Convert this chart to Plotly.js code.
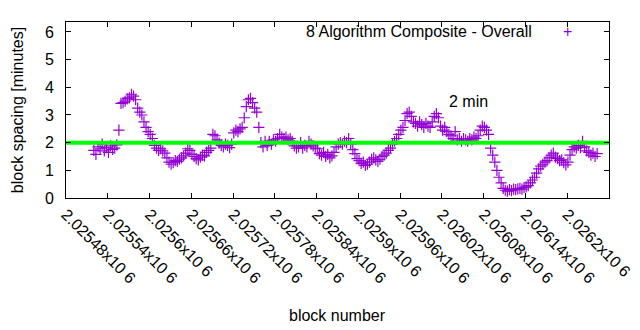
<!DOCTYPE html>
<html>
<head>
<meta charset="utf-8">
<script src="https://cdn.plot.ly/plotly-3.0.1.min.js"></script>
<style>html,body{margin:0;padding:0;background:#fff;}#chart{width:640px;height:330px;}</style>
</head>
<body>
<div id="chart"></div>
<script>
// Block numbers: consecutive sample every 3 blocks starting at this block
var firstBlock = 2025520;
var blockStep = 3;
// Block spacing (minutes), 8 Algorithm Composite - Overall
var spacing = [
1.72,1.58,1.85,1.78,1.95,1.70,1.82,1.65,1.88,1.76,1.80,1.92,
2.45,3.42,3.45,3.50,3.58,3.62,3.75,3.68,3.55,3.25,3.10,3.00,2.75,2.55,2.40,2.30,2.15,1.90,
1.80,1.72,1.78,1.70,1.62,1.45,1.30,1.22,1.28,1.35,1.32,1.40,1.45,1.52,1.62,1.78,1.72,1.58,1.50,1.42,
1.38,1.48,1.55,1.52,1.65,1.72,1.80,2.30,2.25,2.10,1.98,1.90,1.85,1.95,1.90,1.82,1.95,2.35,2.45,2.40,
2.50,2.55,2.90,3.30,3.55,3.60,3.45,3.25,3.10,2.55,2.00,1.85,2.05,1.90,2.05,1.95,2.10,2.05,2.15,2.30,
2.20,2.15,2.20,2.10,2.15,2.05,1.88,1.80,1.85,2.00,1.80,1.90,1.85,2.05,1.95,1.88,1.80,1.78,1.60,1.55,
1.65,1.50,1.58,1.45,1.52,1.65,1.85,1.95,2.00,1.95,2.05,2.00,2.15,1.95,1.75,1.60,1.42,1.35,1.25,1.30,
1.18,1.22,1.30,1.40,1.45,1.38,1.32,1.40,1.50,1.55,1.62,1.72,1.80,1.95,2.05,2.15,2.30,2.45,2.55,2.80,
3.05,3.10,2.95,2.75,2.70,2.60,2.75,2.65,2.55,2.70,2.60,2.55,2.75,2.95,3.05,2.90,2.60,2.45,2.55,2.40,
2.30,2.25,2.15,2.40,2.10,2.15,2.05,2.15,2.10,2.05,2.15,2.10,2.20,2.15,2.25,2.45,2.60,2.55,2.45,2.30,
1.80,1.55,1.30,1.00,0.75,0.55,0.35,0.28,0.25,0.30,0.27,0.32,0.30,0.33,0.35,0.32,0.38,0.40,0.45,0.55,
0.65,0.75,0.90,1.05,1.15,1.22,1.30,1.35,1.45,1.55,1.62,1.48,1.42,1.35,1.38,1.28,1.20,1.30,1.55,1.75,
1.85,1.80,1.90,1.82,2.05,1.85,1.70,1.65,1.55,1.62,1.50,1.60
];
var refLineX = [2025480, 2026260];
var refLineY = [2, 2];
var xTickVals = [2025480,2025540,2025600,2025660,2025720,2025780,2025840,2025900,2025960,2026020,2026080,2026140,2026200,2026260];
var yTickVals = [0,1,2,3,4,5,6];
var seriesName = '8 Algorithm Composite - Overall';
var refLabel = '2 min';

var blocks = spacing.map(function(_, i){ return firstBlock + blockStep * i; });
var xTickText = xTickVals.map(function(v){ return parseFloat((v/1e6).toFixed(5)).toString() + 'x10 6'; });

var FONT = 'Liberation Sans, Arial, sans-serif';
var data = [
  {x: blocks, y: spacing, type: 'scatter', mode: 'markers', name: seriesName,
   marker: {symbol: 'cross-thin-open', size: 8, color: '#9400d3', line: {color: '#9400d3', width: 1.2}},
   cliponaxis: true, showlegend: false},
  {x: refLineX, y: refLineY, type: 'scatter', mode: 'lines', name: refLabel,
   line: {color: '#00ff00', width: 4}, showlegend: false}
];
var layout = {
  width: 640, height: 330,
  margin: {l: 66, r: 31, t: 22, b: 132},
  paper_bgcolor: '#fff', plot_bgcolor: '#fff',
  font: {family: FONT, size: 16, color: '#000'},
  showlegend: false,
  xaxis: {range: [2025480, 2026260], tickmode: 'array', tickvals: xTickVals, ticktext: xTickText,
          tickangle: 45, ticks: 'inside', ticklen: 5, tickcolor: '#000', showgrid: false, zeroline: false,
          showline: true, linecolor: '#000', linewidth: 1, mirror: 'ticks', tickfont: {family: FONT, size: 16}},
  yaxis: {range: [0, 6.36], tickmode: 'array', tickvals: yTickVals, ticks: 'inside', ticklen: 5,
          tickcolor: '#000', showgrid: false, zeroline: false, showline: true, linecolor: '#000',
          linewidth: 1, mirror: 'ticks', ticklabelstandoff: 8, tickfont: {family: FONT, size: 16}},
  annotations: [
    {xref: 'paper', yref: 'paper', x: 0.5, y: -0.67, text: 'block number', showarrow: false,
     font: {family: FONT, size: 16}, xanchor: 'center', yanchor: 'middle'},
    {xref: 'paper', yref: 'paper', x: -0.09, y: 0.5, text: 'block spacing [minutes]', showarrow: false,
     textangle: -90, font: {family: FONT, size: 16}, xanchor: 'center', yanchor: 'middle'},
    {xref: 'paper', yref: 'paper', x: 0.861, y: 0.945, text: seriesName, showarrow: false,
     font: {family: FONT, size: 16}, xanchor: 'right', yanchor: 'middle'},
    {xref: 'paper', yref: 'paper', x: 0.924, y: 0.945, text: '+', showarrow: false,
     font: {family: FONT, size: 16, color: '#9400d3'}, xanchor: 'center', yanchor: 'middle'},
    {xref: 'x', yref: 'y', x: 2026027, y: 3.47, text: refLabel, showarrow: false,
     font: {family: FONT, size: 16}, xanchor: 'left', yanchor: 'middle'}
  ]
};
Plotly.newPlot('chart', data, layout, {displayModeBar: false, staticPlot: true});
</script>
</body>
</html>
